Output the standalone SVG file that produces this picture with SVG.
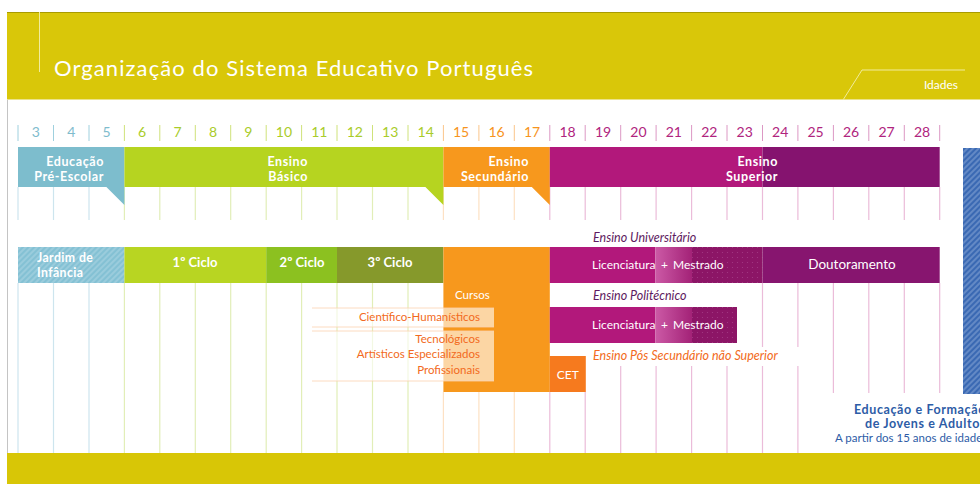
<svg xmlns="http://www.w3.org/2000/svg" width="980" height="484" viewBox="0 0 980 484">
<defs>
<style>
.f{font-family:Lato,"Open Sans","Liberation Sans",sans-serif}
.age{font-size:14px;text-anchor:middle}
.bw{font-weight:bold;fill:#fff;font-size:12.5px;letter-spacing:0.6px;text-anchor:end}
.cw{font-weight:bold;fill:#fff;font-size:13px}
.jw{font-weight:bold;fill:#fff;font-size:12.3px;letter-spacing:0.4px}
.nw{fill:#fff;font-size:12px}
.it{font-style:italic;font-size:12.5px}
.or{fill:#f26a21;font-size:11.5px;text-anchor:end}
.gb{stroke:#cde5ee;stroke-width:1.2}
.gg{stroke:#e2eeb8;stroke-width:1.2}
.go{stroke:#fde1c4;stroke-width:1.2}
.gm{stroke:#ebbcd9;stroke-width:1.2}
.tb{stroke:#9fd0de;stroke-width:1}
.tg{stroke:#cfe27a;stroke-width:1}
.to{stroke:#fbc58a;stroke-width:1}
.tm{stroke:#dc98c4;stroke-width:1}
.box{fill:#fff;fill-opacity:0.6}
.boxl{stroke:#fbd2b0;stroke-width:0.8}
</style>
<pattern id="hatchJ" width="4" height="4" patternUnits="userSpaceOnUse" patternTransform="rotate(45)">
<rect width="4" height="4" fill="#84c1d4"/><line x1="1" y1="0" x2="1" y2="4" stroke="#a9d4e2" stroke-width="1.2"/>
</pattern>
<pattern id="hatchN" width="4" height="4" patternUnits="userSpaceOnUse" patternTransform="rotate(45)">
<rect width="4" height="4" fill="#3a69b3"/><line x1="1" y1="0" x2="1" y2="4" stroke="#7e9fd2" stroke-width="1.2"/>
</pattern>
<pattern id="dots" width="5" height="5" patternUnits="userSpaceOnUse">
<rect width="5" height="5" fill="#8c1566"/><circle cx="2.5" cy="2.5" r="0.6" fill="#a33a84"/>
</pattern>
<linearGradient id="lightM" x1="0" y1="0" x2="1" y2="0">
<stop offset="0" stop-color="#cc5aa6"/><stop offset="1" stop-color="#a32277"/>
</linearGradient>
</defs>
<rect width="980" height="484" fill="#fff"/>

<g id="header">
<rect x="7" y="12" width="973" height="88" fill="#d9c709"/>
<line x1="7" y1="12.5" x2="980" y2="12.5" stroke="#a99b00" stroke-width="1"/>
<line x1="7" y1="99.5" x2="980" y2="99.5" stroke="#ebe38a" stroke-width="1"/>
<line x1="39.5" y1="12" x2="39.5" y2="72" stroke="#f1ec9c" stroke-width="1"/>
<text class="f" x="54" y="76" font-size="22" fill="#fff" textLength="479">Organização do Sistema Educativo Português</text>
<polyline points="843,100 862,70 965,70" fill="none" stroke="#f1ec9c" stroke-width="1"/>
<text class="f" x="958" y="89" font-size="12" fill="#fff" text-anchor="end">Idades</text>
</g>
<line x1="7.5" y1="100" x2="7.5" y2="453" stroke="#c4c4c4" stroke-width="1"/>
<rect id="footer" x="7" y="453" width="973" height="31" fill="#d8c606"/>

<g id="grid">
<path class="tb" d="M18 125V141M53.5 125V141M89 125V141"/>
<path class="tg" d="M124.4 125V141M159.8 125V141M195.3 125V141M230.7 125V141M266.2 125V141M301.6 125V141M337 125V141M372.5 125V141M408 125V141"/>
<path class="to" d="M443.4 125V141M478.9 125V141M514.3 125V141"/>
<path class="tm" d="M549.8 125V141M585.2 125V141M620.7 125V141M656.1 125V141M691.6 125V141M727 125V141M762.5 125V141M797.9 125V141M833.4 125V141M868.8 125V141M904.3 125V141M939.7 125V141"/>
<path class="gb" d="M18 187V220M53.5 187V220M89 187V220"/>
<path class="gg" d="M124.4 187V220M159.8 187V220M195.3 187V220M230.7 187V220M266.2 187V220M301.6 187V220M337 187V220M372.5 187V220M408 187V220"/>
<path class="go" d="M443.4 187V220M478.9 187V220M514.3 187V220"/>
<path class="gm" d="M549.8 187V220M585.2 187V220M620.7 187V220M656.1 187V220M691.6 187V220M727 187V220M762.5 187V220M797.9 187V220M833.4 187V220M868.8 187V220M904.3 187V220M939.7 187V220"/>
<path class="gb" d="M18 283V453M53.5 283V453M89 283V453"/>
<path class="gg" d="M124.4 283V453M159.8 283V453M195.3 283V453M230.7 283V453M266.2 283V453M301.6 283V453M337 283V453M372.5 283V453M408 283V453"/>
<path class="go" d="M443.4 392V453M478.9 392V453M514.3 392V453"/>
<path class="gm" d="M549.8 392V453M585.2 392V453M620.7 366V453M656.1 366V453M691.6 366V453M727 366V453M762.5 283V347M762.5 366V453M797.9 283V347M797.9 366V453M833.4 283V393M868.8 283V393M904.3 283V393M939.7 283V393"/>
</g>

<g id="ages" class="f age">
<text x="35.7" y="137" fill="#7fbccd">3</text>
<text x="71.2" y="137" fill="#7fbccd">4</text>
<text x="106.6" y="137" fill="#7fbccd">5</text>
<text x="142" y="137" fill="#a9cc2a">6</text>
<text x="177.5" y="137" fill="#a9cc2a">7</text>
<text x="213" y="137" fill="#a9cc2a">8</text>
<text x="248.4" y="137" fill="#a9cc2a">9</text>
<text x="283.9" y="137" fill="#a9cc2a">10</text>
<text x="319.3" y="137" fill="#a9cc2a">11</text>
<text x="354.8" y="137" fill="#a9cc2a">12</text>
<text x="390.2" y="137" fill="#a9cc2a">13</text>
<text x="425.7" y="137" fill="#a9cc2a">14</text>
<text x="461.1" y="137" fill="#f7941d">15</text>
<text x="496.6" y="137" fill="#f7941d">16</text>
<text x="532" y="137" fill="#f7941d">17</text>
<text x="567.5" y="137" fill="#b0247e">18</text>
<text x="603" y="137" fill="#b0247e">19</text>
<text x="638.4" y="137" fill="#b0247e">20</text>
<text x="673.8" y="137" fill="#b0247e">21</text>
<text x="709.3" y="137" fill="#b0247e">22</text>
<text x="744.7" y="137" fill="#b0247e">23</text>
<text x="780.2" y="137" fill="#b0247e">24</text>
<text x="815.6" y="137" fill="#b0247e">25</text>
<text x="851" y="137" fill="#b0247e">26</text>
<text x="886.5" y="137" fill="#b0247e">27</text>
<text x="922" y="137" fill="#b0247e">28</text>
</g>

<g id="preescolar">
<polygon points="18,147 124.4,147 124.4,205 106.4,187 18,187" fill="#7dbdcd"/>
<text class="f bw" y="166"><tspan x="104">Educação</tspan><tspan x="104" dy="15">Pré-Escolar</tspan></text>
</g>
<g id="basico">
<polygon points="124.4,147 443.4,147 443.4,205 425.4,187 124.4,187" fill="#b6d420"/>
<text class="f bw" y="166"><tspan x="308">Ensino</tspan><tspan x="308" dy="15">Básico</tspan></text>
</g>
<g id="secundario">
<polygon points="443.4,147 549.8,147 549.8,205 531.8,187 443.4,187" fill="#f7981d"/>
<text class="f bw" y="166"><tspan x="529">Ensino</tspan><tspan x="529" dy="15">Secundário</tspan></text>
</g>
<g id="superior">
<rect x="549.8" y="147" width="212.7" height="40" fill="#b2187b"/>
<rect x="762.5" y="147" width="177.2" height="40" fill="#85136f"/>
<text class="f bw" y="166"><tspan x="778">Ensino</tspan><tspan x="778" dy="15">Superior</tspan></text>
</g>

<g id="jardim">
<rect x="18" y="247" width="106.4" height="36" fill="url(#hatchJ)"/>
<text class="f jw" y="261.5"><tspan x="37">Jardim de</tspan><tspan x="37" dy="15">Infância</tspan></text>
</g>
<g id="ciclo1">
<rect x="124.4" y="247" width="141.8" height="36" fill="#b8d522"/>
<text class="f cw" x="195" y="267" text-anchor="middle">1º Ciclo</text>
</g>
<g id="ciclo2">
<rect x="266.2" y="247" width="70.8" height="36" fill="#8cc120"/>
<text class="f cw" x="302" y="267" text-anchor="middle">2º Ciclo</text>
</g>
<g id="ciclo3">
<rect x="337" y="247" width="106.4" height="36" fill="#86992b"/>
<text class="f cw" x="390" y="267" text-anchor="middle">3º Ciclo</text>
</g>

<g id="cursos">
<rect x="443.4" y="247" width="106.4" height="145" fill="#f7981d"/>
<text class="f" x="455" y="299" font-size="11.5" fill="#fff">Cursos</text>
<rect class="box" x="312" y="308" width="182" height="19"/>
<path class="boxl" d="M312 308H494M312 327H494"/>
<text class="f or" x="480" y="321">Científico-Humanísticos</text>
<rect class="box" x="312" y="331" width="182" height="50"/>
<path class="boxl" d="M312 331H494M312 381H494"/>
<text class="f or" x="480" y="343">Tecnológicos</text>
<text class="f or" x="480" y="358">Artísticos Especializados</text>
<text class="f or" x="480" y="374">Profissionais</text>
</g>

<g id="universitario">
<text class="f it" x="593" y="242" fill="#5e1a60">Ensino Universitário</text>
<rect x="549.8" y="247" width="105.5" height="36" fill="#b2187b"/>
<rect x="655.3" y="247" width="36.7" height="36" fill="url(#lightM)"/>
<rect x="692" y="247" width="70.5" height="36" fill="url(#dots)"/>
<rect x="762.5" y="247" width="177.2" height="36" fill="#87156f"/>
<text class="f nw" x="592" y="269">Licenciatura</text>
<text class="f nw" x="664.5" y="269" text-anchor="middle">+</text>
<text class="f nw" x="673" y="269">Mestrado</text>
<text class="f" x="852" y="269" font-size="13.5" fill="#fff" text-anchor="middle">Doutoramento</text>
</g>

<g id="politecnico">
<text class="f it" x="593" y="300" fill="#5e1a60">Ensino Politécnico</text>
<rect x="549.8" y="307" width="105.5" height="36" fill="#b2187b"/>
<rect x="655.3" y="307" width="36.7" height="36" fill="url(#lightM)"/>
<rect x="692" y="307" width="45" height="36" fill="url(#dots)"/>
<text class="f nw" x="592" y="329">Licenciatura</text>
<text class="f nw" x="664.5" y="329" text-anchor="middle">+</text>
<text class="f nw" x="673" y="329">Mestrado</text>
</g>

<g id="possecundario">
<text class="f it" x="593" y="360" fill="#f26a21">Ensino Pós Secundário não Superior</text>
</g>
<g id="cet">
<rect x="549.8" y="356" width="36" height="36" fill="#f67a1e"/>
<text class="f" x="567.8" y="379" font-size="12" fill="#fff" text-anchor="middle">CET</text>
</g>

<g id="efa">
<rect x="963" y="148" width="17" height="246" fill="url(#hatchN)"/>
<text class="f" x="854" y="414" font-size="12.5" font-weight="bold" fill="#2d5ca6" letter-spacing="0.6">Educação e Formação</text>
<text class="f" x="865" y="428" font-size="12.5" font-weight="bold" fill="#2d5ca6" letter-spacing="0.6">de Jovens e Adultos</text>
<text class="f" x="835" y="442" font-size="11.5" fill="#2d5ca6">A partir dos 15 anos de idade</text>
</g>
</svg>
